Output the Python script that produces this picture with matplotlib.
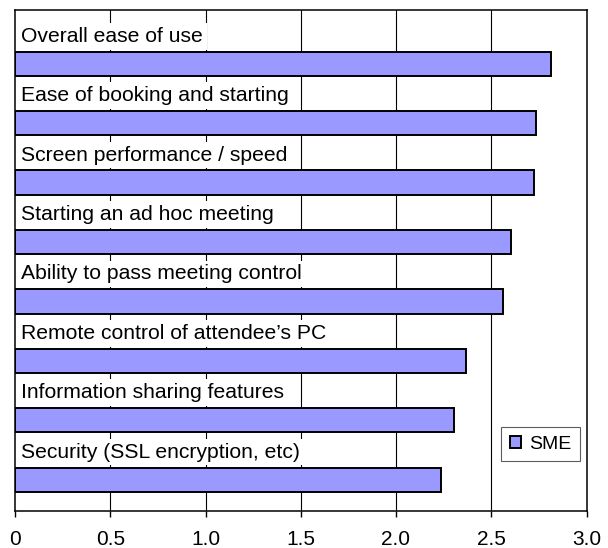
import matplotlib
matplotlib.use("Agg")
import matplotlib.pyplot as plt
import numpy as np

categories = [
    "Overall ease of use",
    "Ease of booking and starting",
    "Screen performance / speed",
    "Starting an ad hoc meeting",
    "Ability to pass meeting control",
    "Remote control of attendee\u2019s PC",
    "Information sharing features",
    "Security (SSL encryption, etc)",
]
sme_values = [2.815, 2.737, 2.724, 2.602, 2.562, 2.366, 2.306, 2.235]
x_ticks = [0, 0.5, 1.0, 1.5, 2.0, 2.5, 3.0]
x_tick_labels = ["0", "0.5", "1.0", "1.5", "2.0", "2.5", "3.0"]
series_name = "SME"

plt.rcParams['font.family'] = ['Liberation Sans', 'DejaVu Sans']

fig = plt.figure(figsize=(6.08, 5.48), dpi=100)
ax = fig.add_axes([15/608, 1 - 511/548, (586.5 - 15)/608, (511 - 10)/548])

y = np.arange(len(categories))
ax.barh(y, sme_values, height=0.407, color='#9999FF', edgecolor='black',
        linewidth=1.4, zorder=2, label=series_name)

for xv in x_ticks[1:-1]:
    ax.axvline(xv, color='black', linewidth=0.8, zorder=0)

for i, lab in enumerate(categories):
    ax.text(0.034, i - 0.37, lab, fontsize=15.2, va='baseline', ha='left',
            zorder=3,
            bbox=dict(boxstyle='square,pad=0.18', facecolor='white',
                      edgecolor='none'))

ax.set_xlim(0, 3.0)
ax.set_ylim(len(categories) - 1 + 0.527, -0.904)
ax.set_xticks(x_ticks)
ax.set_xticklabels(x_tick_labels, fontsize=15)
ax.set_yticks([])
ax.tick_params(axis='x', direction='out', length=4.3, width=1, pad=9.5,
               colors='black')
for sp in ax.spines.values():
    sp.set_linewidth(1.1)
    sp.set_color('black')

leg = ax.legend(loc='upper right', bbox_to_anchor=(0.9895, 0.1677),
                borderaxespad=0, fontsize=14, frameon=True, fancybox=False,
                handlelength=0.55, handleheight=0.55, handletextpad=0.45,
                borderpad=0.45)
leg.get_frame().set_edgecolor('#333333')
leg.get_frame().set_linewidth(0.8)

fig.savefig("out.png", dpi=100)
